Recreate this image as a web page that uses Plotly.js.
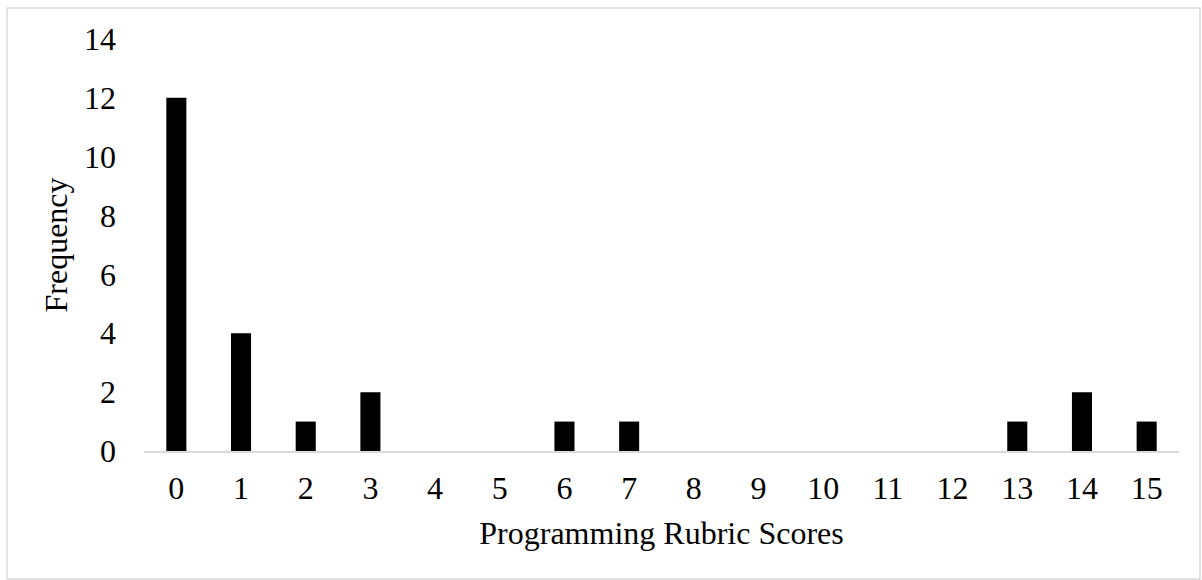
<!DOCTYPE html>
<html>
<head>
<meta charset="utf-8">
<script src="https://cdn.plot.ly/plotly-3.0.1.min.js"></script>
<style>html,body{margin:0;padding:0;background:#fff;}#chart{width:1202px;height:580px;}</style>
</head>
<body>
<div id="chart"></div>
<script>
const scores = ['0','1','2','3','4','5','6','7','8','9','10','11','12','13','14','15'];
const frequency = [12,4,1,2,0,0,1,1,0,0,0,0,0,1,2,1];
const yTicks = [0,2,4,6,8,10,12,14];

const font = {family: '"Liberation Serif", "Times New Roman", serif', size: 32, color: '#000'};

const W = 1202, H = 580;
const m = {l: 144, r: 23, t: 39, b: 129};
const pw = W - m.l - m.r, ph = H - m.t - m.b;
function px(x){ return (x - m.l) / pw; }
function py(y){ return (H - m.b - y) / ph; }

Plotly.newPlot('chart', [{
  type: 'bar',
  x: scores,
  y: frequency,
  marker: {color: '#000', line: {width: 0}},
  hoverinfo: 'x+y'
}], {
  width: W, height: H,
  margin: m,
  paper_bgcolor: '#fff', plot_bgcolor: '#fff',
  font: font,
  bargap: 0.69,
  showlegend: false,
  xaxis: {
    type: 'category',
    showline: true, linecolor: '#d9d9d9', linewidth: 2,
    showgrid: false, zeroline: false,
    ticks: '', ticklabelstandoff: 8,
    tickfont: font,
    title: {text: 'Programming Rubric Scores', font: font, standoff: 16}
  },
  yaxis: {
    range: [0, 14],
    tickvals: yTicks,
    showline: false, showgrid: false, zeroline: false,
    ticks: '', ticklabelstandoff: 27,
    tickfont: font,
    title: {text: 'Frequency', font: font, standoff: 6}
  },
  shapes: [{
    type: 'rect', xref: 'paper', yref: 'paper',
    x0: px(7), x1: px(1200), y0: py(8), y1: py(579),
    line: {color: '#d9d9d9', width: 1.5}, fillcolor: 'rgba(0,0,0,0)', layer: 'below'
  }]
}, {displayModeBar: false, staticPlot: true});
</script>
</body>
</html>
